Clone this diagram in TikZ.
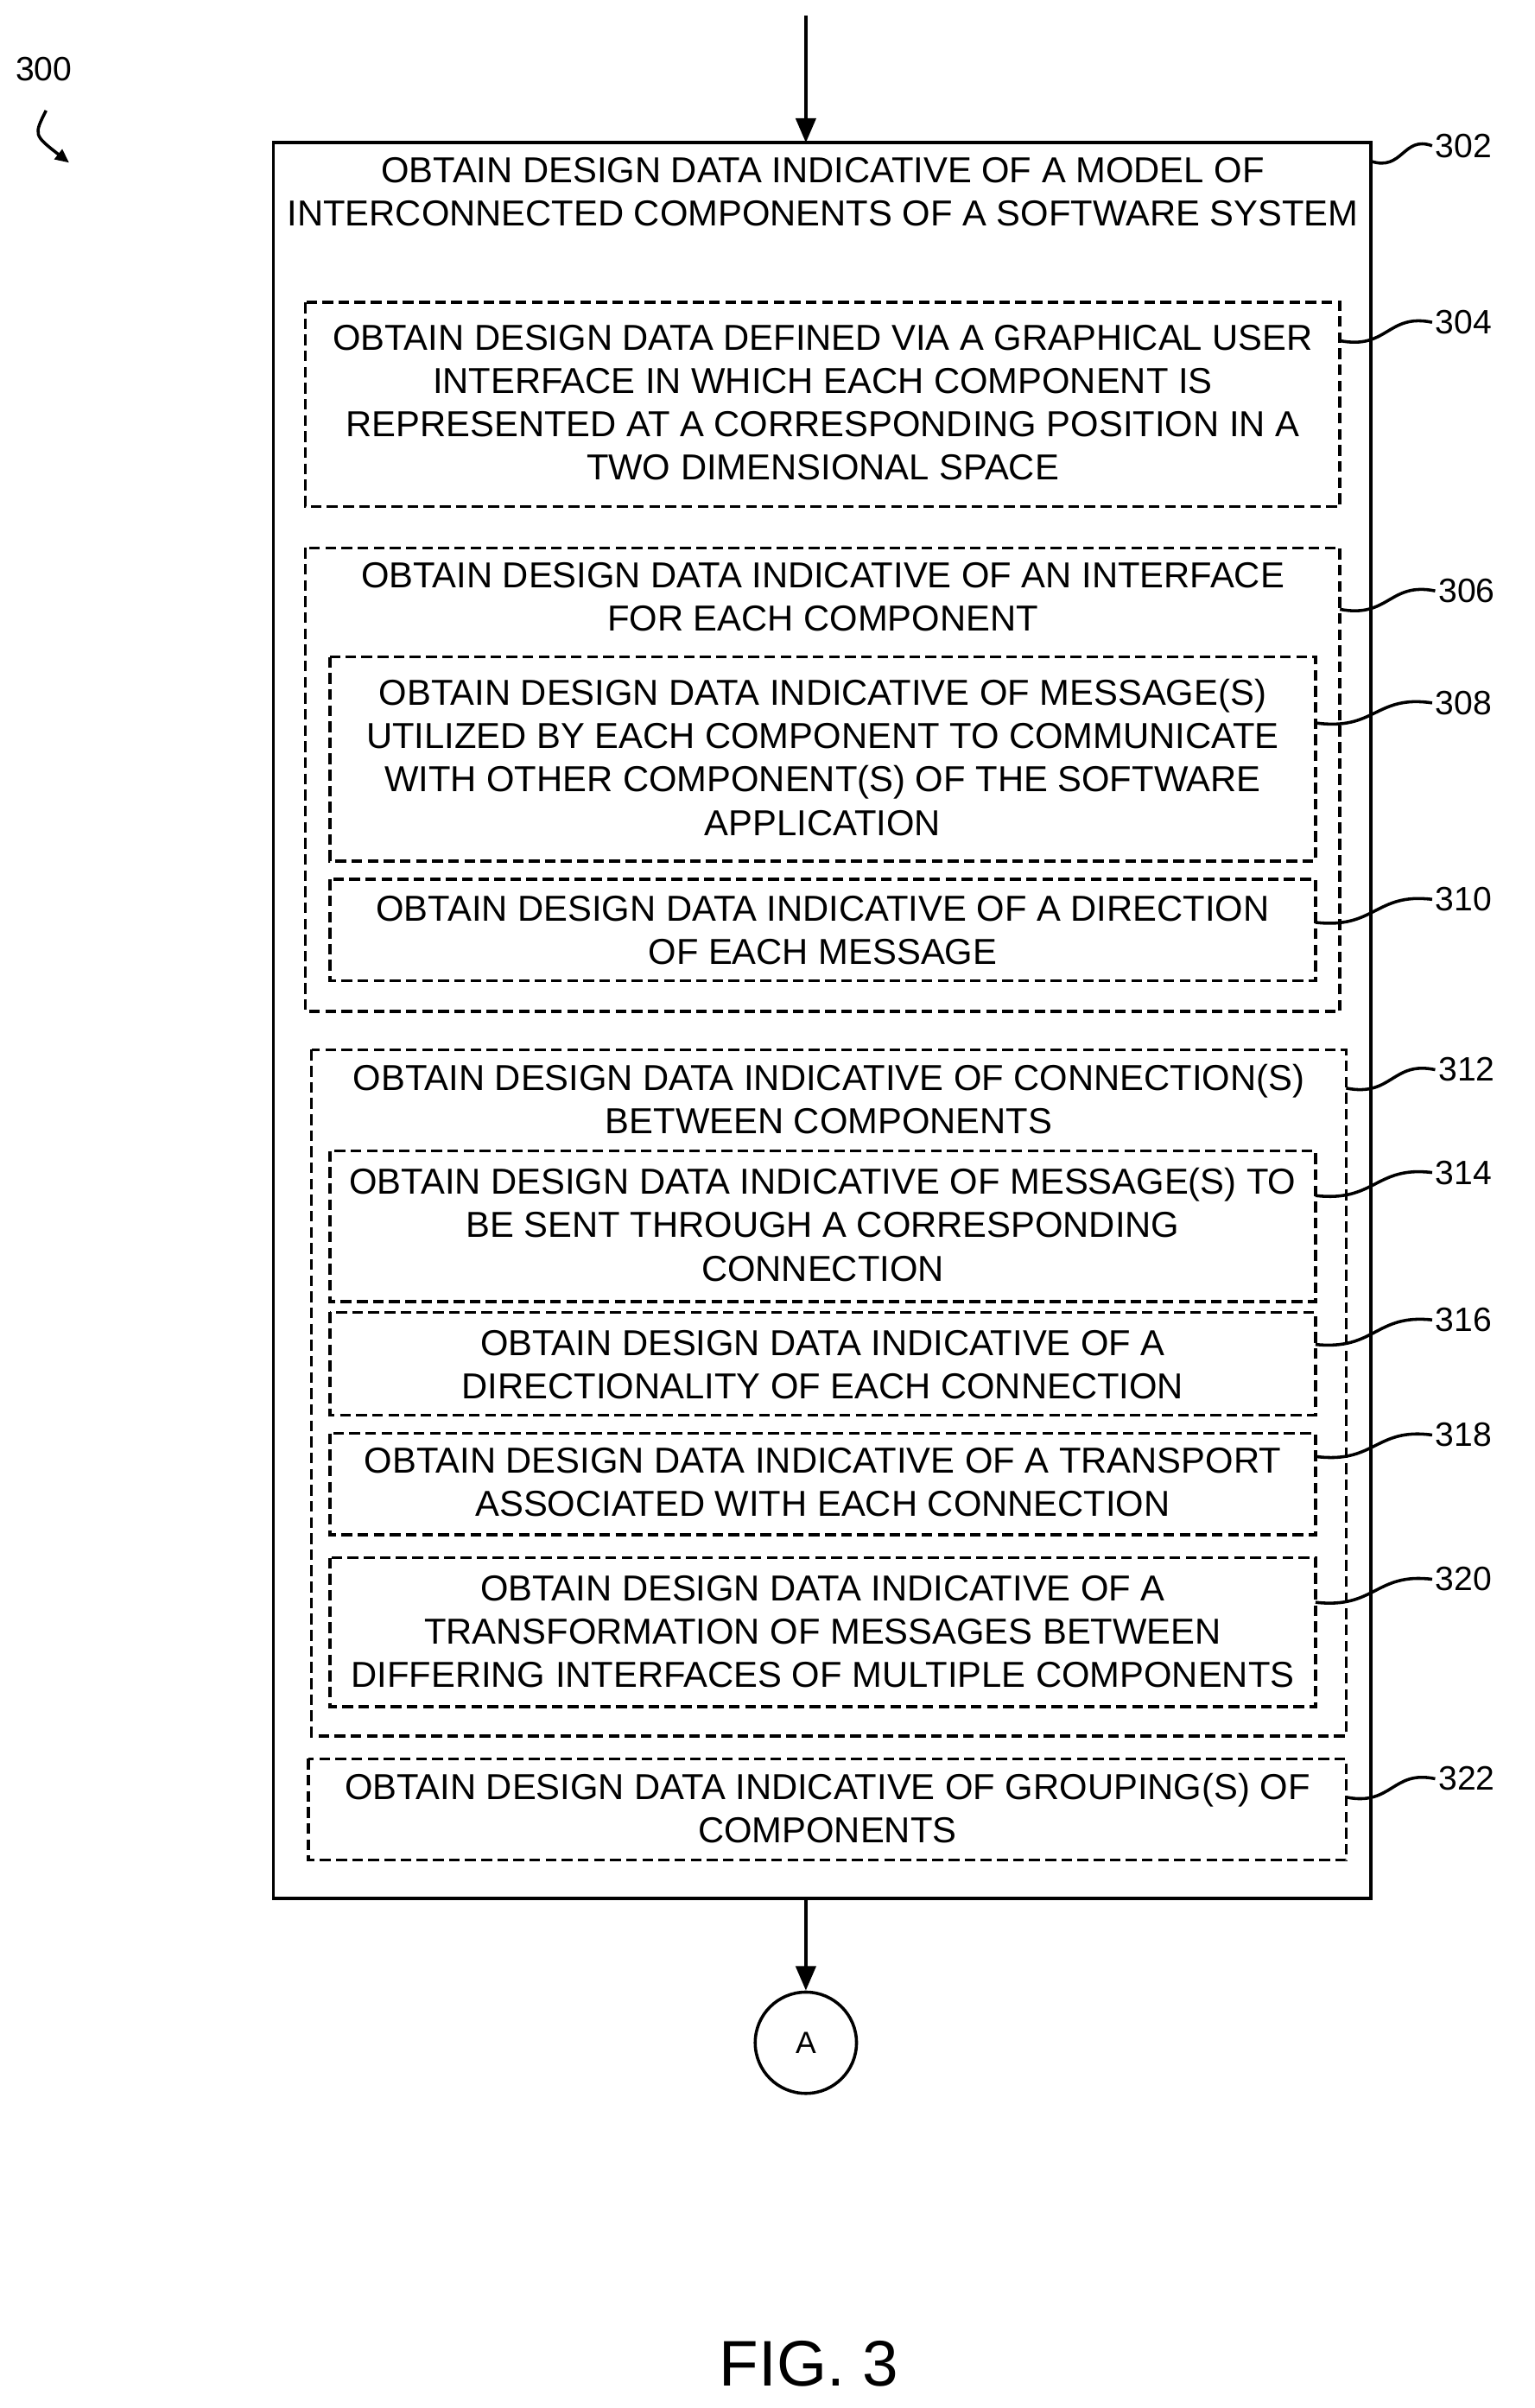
\documentclass[tikz,border=0pt]{standalone}
\usepackage{fontspec}
\setmainfont{Liberation Sans}
\usetikzlibrary{arrows.meta,calc}
\begin{document}
\begin{tikzpicture}[x=1pt,y=-1pt,
  txt/.style={align=center,font=\fontsize{23.5}{28.2}\selectfont,inner sep=0},
  lab/.style={font=\fontsize{22}{25}\selectfont,inner sep=0,anchor=west},
  dbox/.style={draw,line width=2pt,dash pattern=on 7pt off 3.5pt},
  lead/.style={line width=2pt},
  arr/.style={line width=2.4pt,-{Triangle[length=16pt,width=13pt]}}]
\useasboundingbox (0,0) rectangle (1000,1569);
\draw[line width=2pt] (178,93) rectangle (893,1237);
\node[txt] (t302) at (536,125) {OBTAIN DESIGN DATA INDICATIVE OF A MODEL OF\\INTERCONNECTED COMPONENTS OF A SOFTWARE SYSTEM};
\draw[dbox] (199,197) rectangle (873,330);
\node[txt] at (536,262.5) {OBTAIN DESIGN DATA DEFINED VIA A GRAPHICAL USER\\INTERFACE IN WHICH EACH COMPONENT IS\\REPRESENTED AT A CORRESPONDING POSITION IN A\\TWO DIMENSIONAL SPACE};
\draw[dbox] (199,357) rectangle (873,659);
\node[txt] at (536,389) {OBTAIN DESIGN DATA INDICATIVE OF AN INTERFACE\\FOR EACH COMPONENT};
\draw[dbox] (215,428) rectangle (857,561);
\node[txt] at (536,493.5) {OBTAIN DESIGN DATA INDICATIVE OF MESSAGE(S)\\UTILIZED BY EACH COMPONENT TO COMMUNICATE\\WITH OTHER COMPONENT(S) OF THE SOFTWARE\\APPLICATION};
\draw[dbox] (215,573) rectangle (857,639);
\node[txt] at (536,606) {OBTAIN DESIGN DATA INDICATIVE OF A DIRECTION\\OF EACH MESSAGE};
\draw[dbox] (203,684) rectangle (877,1131);
\node[txt] at (540,716) {OBTAIN DESIGN DATA INDICATIVE OF CONNECTION(S)\\BETWEEN COMPONENTS};
\draw[dbox] (215,750) rectangle (857,848);
\node[txt] at (536,798) {OBTAIN DESIGN DATA INDICATIVE OF MESSAGE(S) TO\\BE SENT THROUGH A CORRESPONDING\\CONNECTION};
\draw[dbox] (215,855) rectangle (857,922);
\node[txt] at (536,889) {OBTAIN DESIGN DATA INDICATIVE OF A\\DIRECTIONALITY OF EACH CONNECTION};
\draw[dbox] (215,934) rectangle (857,1000);
\node[txt] at (536,966) {OBTAIN DESIGN DATA INDICATIVE OF A TRANSPORT\\ASSOCIATED WITH EACH CONNECTION};
\draw[dbox] (215,1015) rectangle (857,1112);
\node[txt] at (536,1063) {OBTAIN DESIGN DATA INDICATIVE OF A\\TRANSFORMATION OF MESSAGES BETWEEN\\DIFFERING INTERFACES OF MULTIPLE COMPONENTS};
\draw[dbox] (201,1146) rectangle (877,1212);
\node[txt] at (539,1178) {OBTAIN DESIGN DATA INDICATIVE OF GROUPING(S) OF\\COMPONENTS};
% labels
\foreach \bx/\by/\lx/\ly/\t in {893/105/935/95/302, 873/222/935/210/304, 873/397/937/385/306, 857/471/935/458/308, 857/601/935/586/310, 877/709/937/697/312, 857/779/935/764/314, 857/876/935/860/316, 857/949/935/935/318, 857/1044/935/1029/320, 877/1171/937/1159/322}{
  \node[lab] (l\t) at (\lx,\ly) {\t};
  \coordinate (e\t) at (\bx,\by);
  \draw[lead] (e\t) .. controls ($(e\t)!0.5!(l\t.west)+(0,12)$) and ($(e\t)!0.5!(l\t.west)+(0,-12)$) .. ($(l\t.west)+(-2,0)$);
}
\node[lab] (l300) at (10,45) {300};
\coordinate (s300) at (30,72);
\coordinate (t300) at (45,106);
\draw[line width=2pt,-{Triangle[length=9pt,width=8pt]}] (s300) .. controls (22,88) .. (t300);
% arrows
\coordinate (top) at (525,10);
\coordinate (in) at (525,93);
\draw[arr] (top) -- (in);
\node[draw,circle,line width=2pt,minimum size=66pt,inner sep=0,font=\fontsize{20}{22}\selectfont] (A) at (525,1331) {A};
\coordinate (out) at (525,1237);
\draw[arr] (out) -- (A);
\node[font=\fontsize{42}{46}\selectfont,inner sep=0] (fig) at (527,1540) {FIG. 3};
\end{tikzpicture}
\end{document}
